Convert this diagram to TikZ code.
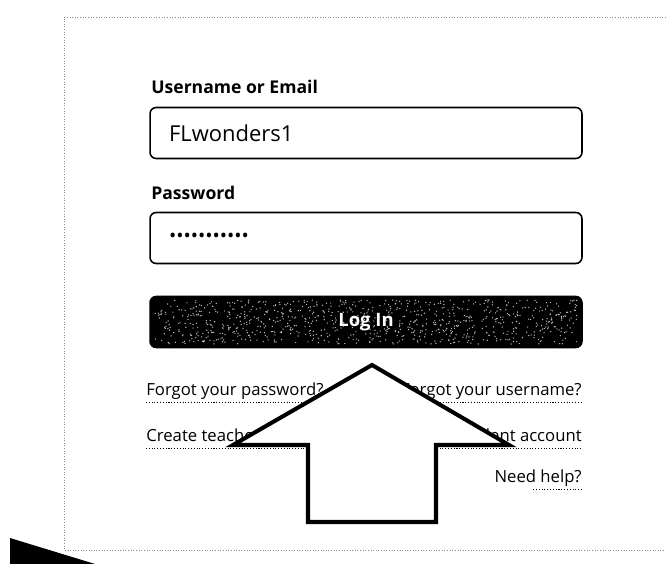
\documentclass[tikz,border=0pt]{standalone}
\usepackage{fontspec}
\setmainfont{Open Sans}
\usetikzlibrary{positioning}

\begin{document}
\begin{tikzpicture}[x=0.02cm, y=-0.02cm,
                    fieldlabel/.style={anchor=west, inner sep=0pt, font=\bfseries\fontsize{10}{12}\selectfont},
                    field/.style={draw, line width=0.9pt, rounded corners=3.5pt,
                                  minimum width=8.64cm, minimum height=1.02cm,
                                  inner xsep=0.38cm, text width=7.88cm, align=left},
                    linktext/.style={inner sep=0pt, font=\fontsize{9.5}{11}\selectfont},
                    dotline/.style={densely dotted, line width=0.6pt},
                    page_edge/.style={densely dotted, black!45, line width=0.5pt}]
   \useasboundingbox (0,0) rectangle (666,564);

   % page edge and corner
   \draw[page_edge] (666,17) -- (64,17) -- (64,550) -- (666,550);
   \fill (10,538) -- (95,564) -- (10,564) -- cycle;

   \node[fieldlabel] (user_label) at (151,87) {Username or Email};
   \node[field, font=\fontsize{12.5}{15}\selectfont] (user_box) at (366,133) {FLwonders1};
   \node[fieldlabel] (pass_label) at (151,193) {Password};
   \node[field, font=\fontsize{11}{13}\selectfont] (pass_box) at (366,238)
        {\textbullet\textbullet\textbullet\textbullet\textbullet\textbullet\textbullet\textbullet\textbullet\textbullet\textbullet};

   % log in button with its grainy fill
   \node[field, fill=black] (login) at (366,322) {};
   \pgfmathsetseed{7}
   \foreach \k in {1,...,900}
      \fill[black!25] ({366+211*rand},{322+22*rand}) circle (0.4pt);
   \node[text=white, font=\bfseries\fontsize{10.5}{13}\selectfont] (login_text) at (login) {Log In};

   % links
   \node[linktext, anchor=base west] (forgot_pass) at (146,395) {Forgot your password?};
   \node[linktext, anchor=base east] (forgot_user) at (582,395) {Forgot your username?};
   \node[linktext, anchor=base west] (teacher) at (146,441) {Create teacher account};
   \node[linktext, anchor=base east] (student) at (582,441) {Create student account};
   \node[linktext, anchor=base east] (help) at (582,482) {Need help?};

   \draw[dotline] ([yshift=-4pt]forgot_pass.base west) -- ([yshift=-4pt]forgot_pass.base east);
   \draw[dotline] ([yshift=-4pt]forgot_user.base west) -- ([yshift=-4pt]forgot_user.base east);
   \draw[dotline] ([yshift=-4pt]teacher.base west) -- ([yshift=-4pt]teacher.base east);
   \draw[dotline] ([yshift=-4pt]student.base west) -- ([yshift=-4pt]student.base east);
   \draw[dotline] ([yshift=-4pt]help.base east) -- ([xshift=-28pt,yshift=-4pt]help.base east);

   % big arrow
   \draw[line width=2.3pt, fill=white, line join=miter]
        (372,365) -- (509,445) -- (436,445) -- (436,522) -- (308,522) -- (308,445) -- (233,445) -- cycle;
\end{tikzpicture}
\end{document}
